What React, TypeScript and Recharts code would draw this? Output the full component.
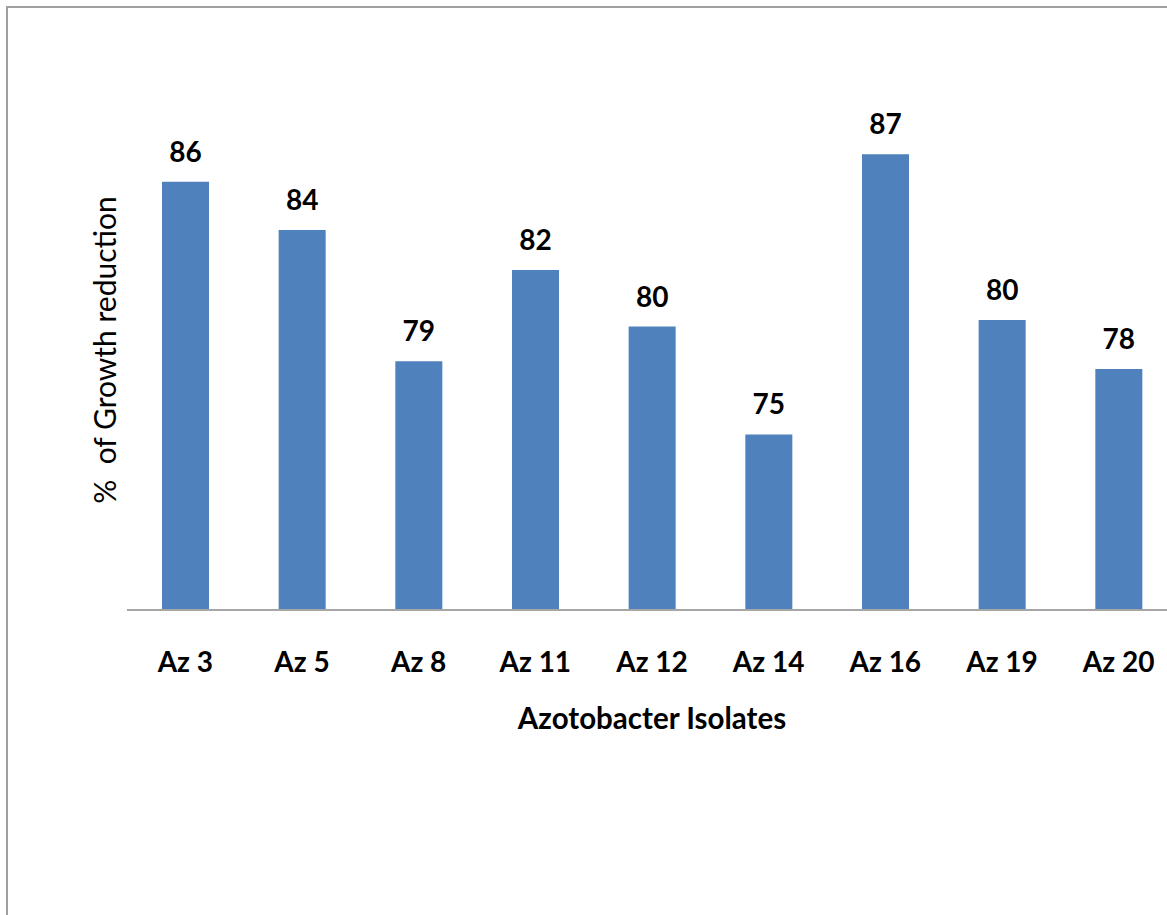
import { BarChart, Bar, XAxis, YAxis, LabelList, Label } from 'recharts'

const isolates = ['Az 3', 'Az 5', 'Az 8', 'Az 11', 'Az 12', 'Az 14', 'Az 16', 'Az 19', 'Az 20']
// bar heights, labels are the rounded values
const growthReduction = [86.12, 84.08, 78.52, 82.38, 79.99, 75.43, 87.28, 80.27, 78.2]

const data = isolates.map((isolate, i) => ({ isolate, reduction: growthReduction[i] }))

const font = 'Lato, "Open Sans", sans-serif'

export default function App() {
  return (
    <div
      style={{
        position: 'fixed',
        left: 0,
        top: 0,
        width: 1167,
        height: 915,
        overflow: 'hidden',
        background: '#fff',
      }}
    >
      <div
        style={{
          position: 'absolute',
          left: 6,
          top: 6,
          width: 1300,
          height: 1100,
          border: '2px solid #a0a0a0',
        }}
      />
      <div style={{ position: 'absolute', left: 0, top: 0 }}>
        <BarChart
          width={1200}
          height={800}
          data={data}
          margin={{ top: 90, right: 23, left: 0, bottom: 70 }}
        >
          <YAxis
            type="number"
            domain={[68, 90]}
            width={127}
            tick={false}
            tickLine={false}
            axisLine={false}
          >
            <Label
              content={({ viewBox }: any) => {
                const x = viewBox.x + viewBox.width - 11
                const y = viewBox.y + viewBox.height / 2
                return (
                  <text
                    x={x}
                    y={y}
                    transform={`rotate(-90 ${x} ${y})`}
                    textAnchor="middle"
                    fontFamily={font}
                    fontSize={30}
                    fill="#000"
                  >
                    {'%\u00A0 of Growth reduction'}
                  </text>
                )
              }}
            />
          </YAxis>
          <XAxis
            dataKey="isolate"
            height={120}
            interval={0}
            tickLine={false}
            tickMargin={36}
            axisLine={{ stroke: '#a6a6a6', strokeWidth: 2 }}
            tick={{ fill: '#000', fontSize: 28, fontWeight: 700, fontFamily: font }}
          >
            <Label
              content={({ viewBox }: any) => (
                <text
                  x={viewBox.x + viewBox.width / 2}
                  y={viewBox.y + 119}
                  textAnchor="middle"
                  fontFamily={font}
                  fontSize={29.5}
                  fontWeight={700}
                  fill="#000"
                >
                  Azotobacter Isolates
                </text>
              )}
            />
          </XAxis>
          <Bar dataKey="reduction" fill="#4f81bd" barSize={47} isAnimationActive={false}>
            <LabelList
              dataKey="reduction"
              position="top"
              offset={20}
              fill="#000"
              fontSize={28}
              fontWeight={700}
              fontFamily={font}
              formatter={(v: any) => Math.round(Number(v))}
            />
          </Bar>
        </BarChart>
      </div>
    </div>
  )
}
